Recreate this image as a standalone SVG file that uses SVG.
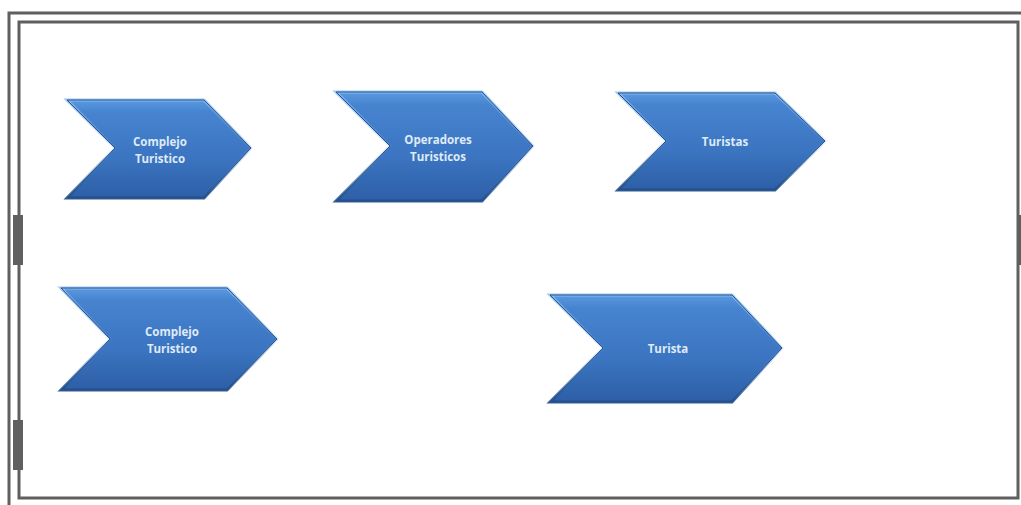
<svg xmlns="http://www.w3.org/2000/svg" width="1021" height="505" viewBox="0 0 1021 505">
  <defs>
    <linearGradient id="chevFill" x1="0" y1="0" x2="0" y2="1">
      <stop offset="0" stop-color="#5a9ae0"/>
      <stop offset="0.12" stop-color="#4784d0"/>
      <stop offset="0.6" stop-color="#3b74c0"/>
      <stop offset="1" stop-color="#2d5fa6"/>
    </linearGradient>
    <linearGradient id="bevel" x1="0" y1="0" x2="0" y2="1">
      <stop offset="0" stop-color="#8fc0f2" stop-opacity="0.9"/>
      <stop offset="0.5" stop-color="#5a95d8" stop-opacity="0.2"/>
      <stop offset="1" stop-color="#1f4c8a" stop-opacity="0.9"/>
    </linearGradient>
  </defs>
  <style>
    .frame { fill: none; stroke: #5f5f5f; stroke-width: 3; }
    .frameThin { fill: none; stroke: #5f5f5f; stroke-width: 2; }
    .bar { fill: #5f5f5f; }
    .chev { fill: url(#chevFill); stroke: url(#bevel); stroke-width: 3; stroke-linejoin: miter; }
    .edge { fill: none; stroke: #27518d; stroke-width: 1; }
    .label { font-family: "Open Sans", "Liberation Sans", sans-serif; font-weight: bold; font-size: 11.5px; fill: #dfeaf7; text-anchor: middle; }
  </style>

  <rect width="1021" height="505" fill="#ffffff"/>

  <!-- double frame -->
  <g id="frame">
    <path class="frame" d="M9,505 V13 H1021"/>
    <rect class="frame" x="19" y="22" width="999" height="476"/>
    <rect class="bar" x="13" y="215" width="10" height="50"/>
    <rect class="bar" x="13" y="420" width="10" height="50"/>
    <rect class="bar" x="1017" y="215" width="4" height="50"/>
  </g>

  <g id="connectors"></g>

  <g id="node-complejo-1">
    <polygon class="chev" points="67,100 204,100 251,148 204,198 67,198 115,148"/>
    <polygon class="edge" points="67,100 204,100 251,148 204,198 67,198 115,148"/>
    <text class="label" x="160" y="146">Complejo</text>
    <text class="label" x="160" y="163">Turistico</text>
  </g>

  <g id="node-operadores">
    <polygon class="chev" points="336,92 482,92 533,146 482,201 336,201 390,146"/>
    <polygon class="edge" points="336,92 482,92 533,146 482,201 336,201 390,146"/>
    <text class="label" x="438" y="144">Operadores</text>
    <text class="label" x="438" y="161">Turisticos</text>
  </g>

  <g id="node-turistas">
    <polygon class="chev" points="618,93 775,93 825,141 775,190 618,190 666,141"/>
    <polygon class="edge" points="618,93 775,93 825,141 775,190 618,190 666,141"/>
    <text class="label" x="725" y="146">Turistas</text>
  </g>

  <g id="node-complejo-2">
    <polygon class="chev" points="61,288 227,288 277,339 227,390 61,390 110,339"/>
    <polygon class="edge" points="61,288 227,288 277,339 227,390 61,390 110,339"/>
    <text class="label" x="172" y="336">Complejo</text>
    <text class="label" x="172" y="353">Turistico</text>
  </g>

  <g id="node-turista">
    <polygon class="chev" points="550,295 732,295 782,348 732,402 550,402 603,348"/>
    <polygon class="edge" points="550,295 732,295 782,348 732,402 550,402 603,348"/>
    <text class="label" x="668" y="353">Turista</text>
  </g>
</svg>
